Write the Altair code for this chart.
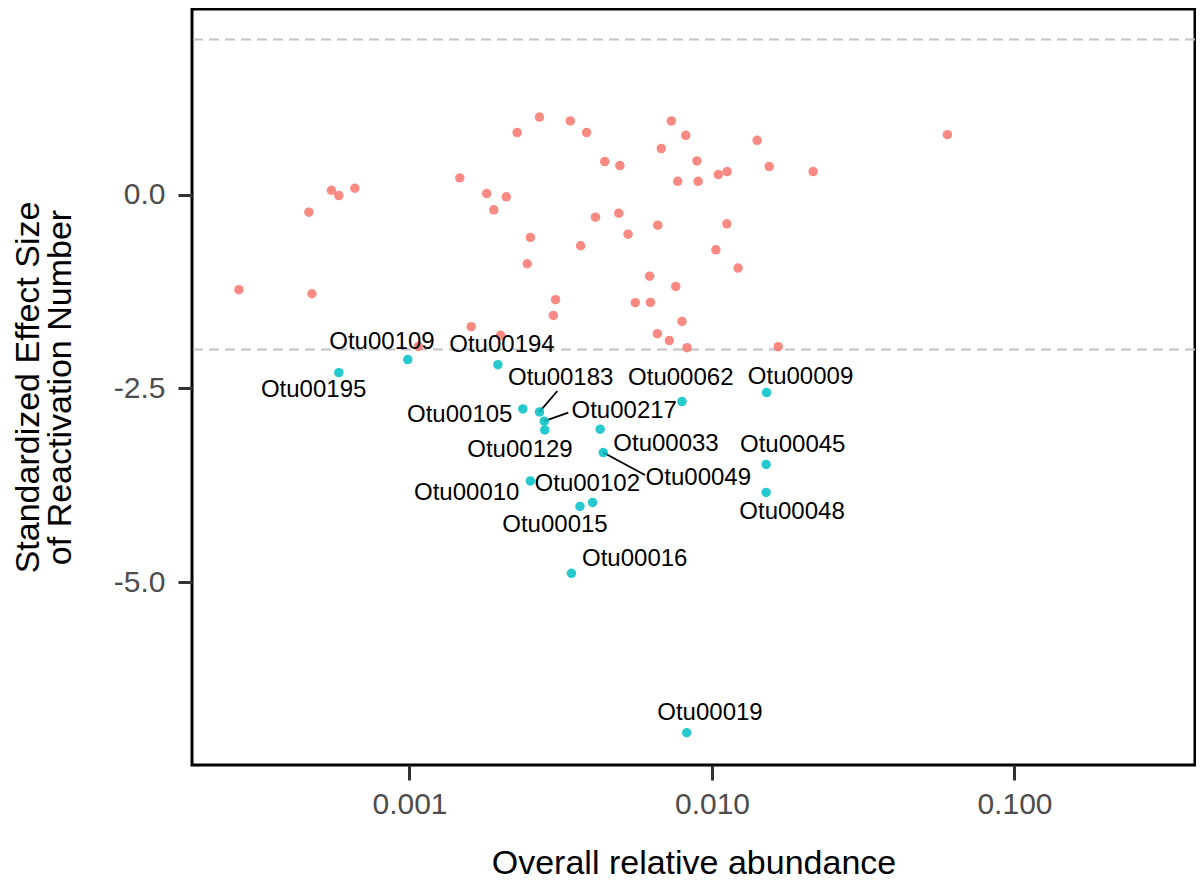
import altair as alt
import pandas as pd

# Non-significant OTUs (red)
ns_abund = [0.000273, 0.000465, 0.000552, 0.000584, 0.000660, 0.000476, 0.001466, 0.00180,
            0.00190, 0.00209, 0.00227, 0.00269, 0.00340, 0.00385, 0.00251, 0.00368, 0.00245,
            0.00304, 0.00299, 0.00160, 0.00200, 0.00107, 0.00734, 0.00819, 0.00680, 0.00442,
            0.00496, 0.00892, 0.00770, 0.00900, 0.01050, 0.01122, 0.01410, 0.01546, 0.02160,
            0.06000, 0.00412, 0.00492, 0.00528, 0.00662, 0.01120, 0.01030, 0.01220, 0.00622,
            0.00759, 0.00558, 0.00626, 0.00796, 0.00660, 0.00723, 0.00827, 0.01656]
ns_ses = [-1.228, -0.228, 0.055, -0.013, 0.081, -1.280, 0.215, 0.013,
          -0.197, -0.030, 0.80, 1.00, 0.95, 0.80, -0.554, -0.661, -0.893,
          -1.357, -1.56, -1.705, -1.817, -1.96, 0.95, 0.764, 0.593, 0.425,
          0.374, 0.434, 0.171, 0.171, 0.258, 0.296, 0.70, 0.361, 0.296,
          0.773, -0.292, -0.241, -0.511, -0.395, -0.378, -0.713, -0.949, -1.053,
          -1.186, -1.396, -1.392, -1.637, -1.795, -1.885, -1.976, -1.963]

# Significant OTUs (teal) with labels
sig_otu = ["Otu00195", "Otu00109", "Otu00194", "Otu00105", "Otu00183", "Otu00217",
           "Otu00129", "Otu00010", "Otu00062", "Otu00009", "Otu00033", "Otu00049",
           "Otu00045", "Otu00048", "Otu00102", "Otu00015", "Otu00016", "Otu00019"]
sig_abund = [0.000584, 0.000987, 0.00196, 0.00237, 0.00269, 0.00279,
             0.00280, 0.00251, 0.00796, 0.01515, 0.00427, 0.00437,
             0.0151, 0.0151, 0.00403, 0.00366, 0.00343, 0.00825]
sig_ses = [-2.298, -2.13, -2.195, -2.767, -2.805, -2.925,
           -3.037, -3.695, -2.672, -2.555, -3.028, -3.329,
           -3.483, -3.844, -3.973, -4.025, -4.888, -6.945]
label_abund = [0.000482, 0.000811, 0.002022, 0.001466, 0.003161, 0.005127,
               0.002319, 0.001546, 0.007886, 0.01962, 0.007047, 0.009012,
               0.01849, 0.01839, 0.003870, 0.003027, 0.005554, 0.00985]
label_ses = [-2.523, -1.903, -1.948, -2.845, -2.372, -2.790,
             -3.297, -3.848, -2.372, -2.355, -3.223, -3.662,
             -3.232, -4.093, -3.735, -4.265, -4.703, -6.694]

# Repel segments (label side start -> point)
seg_otu = ["Otu00183", "Otu00217", "Otu00049"]
seg_abund = [0.003081, 0.00335, 0.006005]
seg_ses = [-2.535, -2.815, -3.619]

hline_values = [2, -2]
x_ticks = [0.001, 0.01, 0.1]
y_ticks = [0.0, -2.5, -5.0]
x_domain = [0.000191, 0.3952]
y_domain = [-7.361, 2.394]

RED = "#F8766D"
TEAL = "#00BFC4"
FONT = "Liberation Sans"

pts = pd.DataFrame({
    "abund": ns_abund + sig_abund,
    "ses": ns_ses + sig_ses,
    "grp": ["ns"] * len(ns_abund) + ["sig"] * len(sig_abund),
})
lab = pd.DataFrame({"otu": sig_otu, "abund": label_abund, "ses": label_ses})
pt_lookup = dict(zip(sig_otu, zip(sig_abund, sig_ses)))
seg = pd.DataFrame({
    "abund": seg_abund,
    "ses": seg_ses,
    "abund2": [pt_lookup[o][0] for o in seg_otu],
    "ses2": [pt_lookup[o][1] for o in seg_otu],
})
hl = pd.DataFrame({"ses": hline_values})

xscale = alt.Scale(type="log", domain=x_domain, nice=False, zero=False)
yscale = alt.Scale(domain=y_domain, nice=False, zero=False)

xaxis = alt.Axis(values=x_ticks, format=".3f", title="Overall relative abundance",
                 tickSize=15, labelPadding=9, titleX=501.5, titleY=108,
                 titleBaseline="alphabetic", titleAlign="center")
yaxis = alt.Axis(values=y_ticks, title=["Standardized Effect Size", "of Reactivation Number"],
                 labelExpr="replace(format(datum.value, '.1f'), '\u2212', '-')",
                 tickSize=14, labelPadding=13, titleX=-164, titleY=378,
                 titleBaseline="middle", titleAlign="center", titleLineHeight=32)

X = lambda f: alt.X(f, scale=xscale, axis=xaxis)
Y = lambda f: alt.Y(f, scale=yscale, axis=yaxis)

hlines = alt.Chart(hl).mark_rule(color="#C2C2C2", strokeWidth=2, strokeDash=[10, 6]).encode(
    y=Y("ses:Q")
)

points = alt.Chart(pts).mark_circle(size=90, opacity=0.85).encode(
    x=X("abund:Q"),
    y=Y("ses:Q"),
    color=alt.Color("grp:N", scale=alt.Scale(domain=["ns", "sig"], range=[RED, TEAL]), legend=None),
)

segments = alt.Chart(seg).mark_rule(color="black", strokeWidth=1.8).encode(
    x=X("abund:Q"),
    x2="abund2:Q",
    y=Y("ses:Q"),
    y2="ses2:Q",
)

labels = alt.Chart(lab).mark_text(fontSize=24, font=FONT, color="black",
                                  align="center", baseline="middle").encode(
    x=X("abund:Q"),
    y=Y("ses:Q"),
    text="otu:N",
)

chart = alt.layer(hlines, segments, points, labels).properties(
    width=1003, height=756,
    padding={"left": 184, "top": 1, "right": 1, "bottom": 115},
    autosize=alt.AutoSizeParams(type="none"),
).configure_view(
    stroke="black", strokeWidth=3
).configure_axis(
    domain=False, grid=False, tickColor="#333333", tickWidth=3,
    labelFont=FONT, labelFontSize=30, labelColor="#4D4D4D",
    titleFont=FONT, titleFontSize=34, titleColor="black", titleFontWeight="normal",
)

chart.save("out.html", embed_options={"renderer": "svg", "actions": False})
